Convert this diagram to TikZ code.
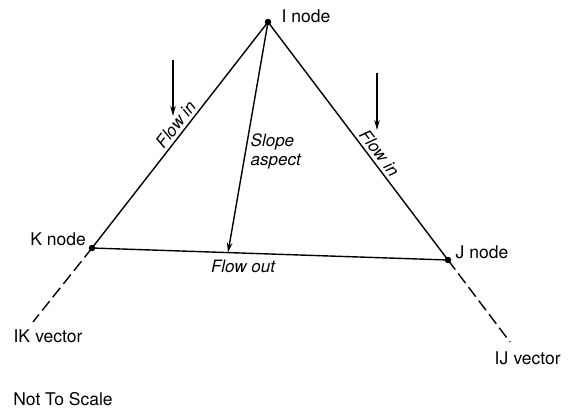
\documentclass[tikz,border=0pt]{standalone}
\usepackage{fontspec}
\setmainfont{TeX Gyre Heros}
\usetikzlibrary{arrows.meta,calc}
\begin{document}
\begin{tikzpicture}[x=1pt,y=-1pt, line width=1.4pt,
  lbl/.style={font=\fontsize{17.5}{19}\selectfont, inner sep=0pt},
  ilbl/.style={font=\fontsize{17}{19}\selectfont\itshape, inner sep=0pt},
  dot/.style={circle, fill, inner sep=0pt, minimum size=6.5pt},
  ext/.style={dash pattern=on 12pt off 5pt},
  arr/.style={-{Stealth[length=10pt,width=5.5pt]}}]
\useasboundingbox (0,0) rectangle (569,410);
\node[dot] (I) at (268,22) {};
\node[dot] (K) at (92,248) {};
\node[dot] (J) at (448,260) {};
\coordinate (Kend) at (33,322);
\coordinate (Jend) at (510,342);
\coordinate (S) at ($(K.center)!0.382!(J.center)$);
\draw (I.center) -- (K.center) -- (J.center) -- cycle;
\draw[ext] (K.center) -- (Kend);
\draw[ext] (J.center) -- (Jend);
\draw[arr] (I.center) -- (S);
\coordinate (a1s) at (173,60);
\coordinate (a1e) at (173,116);
\coordinate (a2s) at (377,73);
\coordinate (a2e) at (377,130);
\draw[arr] (a1s) -- (a1e);
\draw[arr] (a2s) -- (a2e);
\node[lbl, anchor=west] (In) at (281,16) {I node};
\node[lbl] (Kn) at (58,239) {K node};
\node[lbl, anchor=west] (Jn) at (455,252) {J node};
\node[lbl, anchor=west] (IJv) at (494,358) {IJ\hspace{0.3em}vector};
\node[lbl] (IKv) at (48,336) {IK\hspace{0.3em}vector};
\node[lbl] (nts) at (63,399) {Not To Scale};
\path (K.center) -- (I.center) node[ilbl, pos=0.52, sloped, anchor=south, yshift=3pt] (fl1) {Flow in};
\path (I.center) -- (J.center) node[ilbl, pos=0.575, sloped, anchor=south, yshift=3pt] (fl2) {Flow in};
\node[ilbl] (fo) at (243,266) {Flow out};
\node[ilbl, align=left, anchor=west] (sa) at (250,151) {Slope\\aspect};
\end{tikzpicture}
\end{document}
